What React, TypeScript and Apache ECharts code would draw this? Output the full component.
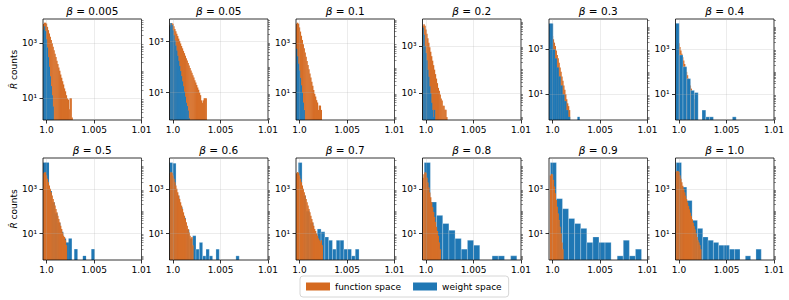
import React, { useEffect, useRef } from 'react';
import * as echarts from 'echarts';

// ---------- data ----------
const betas = ['0.005', '0.05', '0.1', '0.2', '0.3', '0.4', '0.5', '0.6', '0.7', '0.8', '0.9', '1.0'];
const seriesNames = ['function space', 'weight space'];

const xTickValues = [1.0, 1.005, 1.01];
const xTickLabels = ['1.0', '1.005', '1.01'];
const yTickValues = [10, 1000];
const yTickLabels = ['10¹', '10³'];
const yMinorTickValues = [0.7, 0.8, 0.9, 1, 2, 3, 4, 5, 6, 7, 8, 9, 20, 30, 40, 50, 60, 70, 80, 90, 100, 200, 300, 400, 500, 600, 700, 800, 900, 2000, 3000, 4000, 5000, 6000, 7000, 8000, 9000, 10000, 20000];

// axis ranges (log10 of count) per panel
const yLogMin = [0.212, -0.072, -0.108, -0.127, -0.14, -0.14, -0.185, -0.185, -0.185, -0.185, -0.185, -0.185];
const yLogMax = [3.885, 3.889, 3.99, 4.14, 4.35, 4.35, 4.38, 4.38, 4.38, 4.38, 4.38, 4.38];
const X_MIN = 0.99963;
const X_MAX = 1.01;

// function space histograms: first bin edge, bin width, counts
const fnStart = [0.99962, 0.99962, 0.99962, 0.99962, 0.99962, 0.99962, 0.99962, 0.99962, 0.99962, 0.99962, 0.99972, 0.99962];
const fnWidth = [0.0001, 0.0001, 0.0001, 0.0001, 0.0001, 0.0001, 0.0001, 0.0001, 0.0001, 0.0001, 0.0001, 0.0001];
const fn0005 = [5012, 5623, 5623, 5248, 3981, 3020, 2291, 1738, 1318, 1000, 759, 562, 417, 316, 234, 178, 132, 100, 74, 56, 42, 32, 23, 18, 13, 10, 9, 4, 10, 10, 2];
const fn005 = [4467, 5248, 5248, 5012, 3981, 3162, 2570, 2042, 1660, 1318, 1072, 851, 676, 550, 437, 355, 282, 224, 182, 145, 117, 93, 74, 60, 48, 39, 31, 25, 20, 16, 13, 10, 8, 5, 4, 5, 6, 6, 6];
const fn01 = [6310, 6918, 6310, 4467, 3020, 2042, 1380, 933, 631, 427, 288, 195, 132, 89, 60, 41, 28, 19, 13, 9, 7, 5, 4, 2, 3, 3, 2];
const fn02 = [7079, 8318, 7079, 5012, 3311, 2138, 1380, 891, 575, 372, 240, 155, 100, 65, 42, 27, 17, 13, 9, 6, 5, 3, 3, 2, 2, 1];
const fn03 = [3162, 3981, 4365, 3981, 2818, 1995, 1413, 891, 562, 398, 251, 158, 100, 63, 40, 25, 16, 10, 6, 4, 3, 2];
const fn04 = [1585, 1995, 1995, 1862, 1259, 891, 631, 447, 316, 224, 158, 100, 71, 50, 35, 25, 18, 13, 9, 6, 4, 3, 2];
const fn05 = [5012, 5495, 5495, 3981, 2818, 1995, 1413, 1000, 708, 501, 355, 251, 178, 126, 89, 63, 45, 32, 22, 16, 11, 8, 7, 5, 3];
const fn06 = [5012, 5623, 5248, 3981, 2818, 1995, 1413, 1000, 708, 501, 355, 251, 178, 126, 89, 63, 45, 32, 22, 16, 11, 8, 6, 7, 3];
const fn07 = [5012, 5623, 5248, 3981, 2818, 1995, 1413, 1000, 708, 501, 355, 251, 178, 126, 89, 63, 45, 32, 22, 16, 13, 10, 8, 6, 5, 4, 5, 3];
const fn08 = [3162, 4467, 5495, 5248, 3162, 1905, 1148, 692, 417, 251, 151, 91, 55, 33, 20, 13, 8, 4, 2];
const fn09 = [3981, 4677, 4467, 2512, 1259, 631, 316, 158, 79, 40, 20, 10, 4, 2];
const fn10 = [5623, 6310, 6310, 5623, 3981, 2818, 1995, 1380, 977, 692, 490, 347, 245, 170, 120, 85, 60, 43, 30, 21, 15, 10, 7, 5, 4, 3, 2];
const fnCounts = [fn0005, fn005, fn01, fn02, fn03, fn04, fn05, fn06, fn07, fn08, fn09, fn10];

// weight space histograms
const wsStart = [0.99962, 0.99962, 0.99962, 0.99962, 0.99962, 0.99962, 0.99962, 0.99962, 0.99987, 0.99981, 0.99977, 0.9997];
const wsWidth = [0.0001, 0.0001, 0.0001, 0.0001, 0.0002, 0.0004, 0.0003, 0.00035, 0.0004, 0.00065, 0.00064, 0.00056];
const ws0005 = [3162, 4169, 2818, 1413, 708, 316, 141, 63, 28, 13, 5];
const ws005 = [3981, 5370, 4467, 2818, 1778, 1122, 708, 447, 282, 178, 112, 71, 45, 28, 18, 11, 7, 4, 3, 2, 1];
const ws01 = [600, 300, 150, 80, 40, 20, 10, 4, 2];
const ws02 = [6000, 3000, 1000, 500, 250, 100, 50, 20, 10, 4, 2, 1, 2];
const ws03 = [14125, 14125, 1000, 398, 158, 63, 25, 10, 5, 2, 1, 0, 0, 0, 0, 1];
const ws04 = [14454, 562, 170, 50, 15, 12, 0, 2, 1, 1, 0, 0, 0, 0, 0, 1];
const ws05 = [15000, 15000, 800, 250, 80, 30, 12, 6, 4, 6, 0, 2, 0, 0, 1, 0, 0, 2];
const ws06 = [15000, 14000, 500, 150, 50, 15, 6, 8, 2, 4, 1, 2, 1, 0, 2, 0, 0, 0, 0, 0, 1];
const ws07 = [15000, 500, 100, 30, 10, 16, 12, 7, 5, 2, 5, 5, 2, 2, 1, 2];
const ws08 = [15000, 257, 65, 28, 14, 6, 2, 5, 3, 0, 0, 1, 1, 0, 1];
const ws09 = [15000, 363, 129, 47, 28, 17, 4, 7, 4, 4, 0, 1, 5, 1, 2];
const ws10 = [15000, 1200, 300, 39, 17, 7, 5, 4, 3, 3, 2, 2, 0, 1, 0, 2];
const wsCounts = [ws0005, ws005, ws01, ws02, ws03, ws04, ws05, ws06, ws07, ws08, ws09, ws10];

// which histogram is drawn on top in each panel
const weightOnTop = [true, true, true, true, true, true, false, false, false, false, false, false];

// ---------- style / layout ----------
const ORANGE = '#d5691f';
const BLUE = '#1f77b4';
const FONT = 'DejaVu Sans';
const GRID_LEFT0 = 43;
const GRID_STEP = 126.5;
const GRID_W = 98.5;
const ROW_TOP = [19, 158];
const ROW_H = [101, 102];

function toBins(start: number, width: number, counts: number[]) {
  const out: number[][] = [];
  counts.forEach((c, i) => {
    if (c > 0) out.push([start + i * width, start + (i + 1) * width, c]);
  });
  return out;
}

const makeRender = (color: string) => (params: any, api: any) => {
  const x0 = api.value(0);
  const x1 = api.value(1);
  const c = api.value(2);
  const cs = params.coordSys;
  const p0 = api.coord([x0, c]);
  const p1 = api.coord([x1, c]);
  const bottom = cs.y + cs.height;
  const w = p1[0] - p0[0];
  const narrow = w < 3;
  // narrow bins are widened slightly so that neighbours overlap (no anti-aliasing seams)
  const rect = echarts.graphic.clipRectByRect(
    { x: p0[0], y: p0[1], width: narrow ? w + 0.45 : w, height: bottom - p0[1] },
    { x: cs.x, y: cs.y, width: cs.width, height: cs.height }
  );
  if (!rect) return null;
  return {
    type: 'rect',
    shape: rect,
    style: narrow
      ? { fill: color, stroke: 'rgba(255,255,255,0.15)', lineWidth: 0.3 }
      : { fill: color, stroke: 'rgba(255,255,255,0.4)', lineWidth: 0.6 },
  };
};

function buildOption() {
  const grid: any[] = [];
  const xAxis: any[] = [];
  const yAxis: any[] = [];
  const series: any[] = [];
  const title: any[] = [];

  for (let i = 0; i < 12; i++) {
    const r = Math.floor(i / 6);
    const c = i % 6;
    const left = GRID_LEFT0 + c * GRID_STEP;
    const top = ROW_TOP[r];
    const h = ROW_H[r];
    grid.push({
      left, top, width: GRID_W, height: h,
      show: true, borderColor: '#000', borderWidth: 0.8, backgroundColor: 'transparent',
      z: 5, containLabel: false, outerBoundsMode: 'none',
    });
    xAxis.push({
      type: 'value', gridIndex: i, min: X_MIN, max: X_MAX, z: 6,
      axisLine: { show: false },
      axisTick: { show: true, customValues: xTickValues, length: 3.5, lineStyle: { color: '#000', width: 0.8 } },
      axisLabel: {
        show: true, customValues: xTickValues, margin: 5, fontSize: 9, color: '#000', fontFamily: FONT,
        formatter: (v: number) => {
          let best = 0;
          xTickValues.forEach((t, k) => { if (Math.abs(t - v) < Math.abs(xTickValues[best] - v)) best = k; });
          return xTickLabels[best];
        },
      },
      splitLine: { show: true, lineStyle: { color: 'rgba(176,176,176,0.3)', width: 0.8 } },
    });
    yAxis.push({
      type: 'log', logBase: 10, gridIndex: i, z: 6,
      min: Math.pow(10, yLogMin[i]), max: Math.pow(10, yLogMax[i]),
      axisLine: { show: false },
      axisTick: { show: true, customValues: yTickValues, length: 3.5, lineStyle: { color: '#000', width: 0.8 } },
      axisLabel: {
        show: true, customValues: yTickValues, margin: 6, fontSize: 9, color: '#000', fontFamily: FONT,
        formatter: (v: number) => (Math.abs(v - 10) < 1 ? yTickLabels[0] : yTickLabels[1]),
      },
      splitLine: { show: true, lineStyle: { color: 'rgba(176,176,176,0.3)', width: 0.8 } },
      name: c === 0 ? '{i|R\u0302} counts' : '',
      nameLocation: 'middle', nameRotate: 90, nameGap: 25,
      nameTextStyle: { fontSize: 9, color: '#000', fontFamily: FONT, rich: { i: { fontSize: 9, fontStyle: 'italic', fontFamily: FONT, color: '#000' } } },
    });
    yAxis.push({
      type: 'log', logBase: 10, gridIndex: i, z: 6,
      min: Math.pow(10, yLogMin[i]), max: Math.pow(10, yLogMax[i]),
      axisLine: { show: false },
      axisTick: { show: true, customValues: yMinorTickValues, length: 2, lineStyle: { color: '#222', width: 0.5 } },
      axisLabel: { show: false },
      splitLine: { show: false },
    });

    const fnSeries = {
      type: 'custom', name: seriesNames[0], xAxisIndex: i, yAxisIndex: 2 * i,
      itemStyle: { color: ORANGE }, encode: { x: [0, 1], y: 2 },
      renderItem: makeRender(ORANGE), clip: true,
      data: toBins(fnStart[i], fnWidth[i], fnCounts[i]),
    };
    const wsSeries = {
      type: 'custom', name: seriesNames[1], xAxisIndex: i, yAxisIndex: 2 * i,
      itemStyle: { color: BLUE }, encode: { x: [0, 1], y: 2 },
      renderItem: makeRender(BLUE), clip: true,
      data: toBins(wsStart[i], wsWidth[i], wsCounts[i]),
    };
    if (weightOnTop[i]) series.push(fnSeries, wsSeries);
    else series.push(wsSeries, fnSeries);

    title.push({
      text: `{i|β} = ${betas[i]}`,
      left: left + GRID_W / 2,
      top: r === 0 ? 4 : 143,
      textAlign: 'center',
      padding: 0,
      textStyle: {
        fontSize: 10.5, fontWeight: 'normal', color: '#000', fontFamily: FONT, lineHeight: 13,
        rich: { i: { fontSize: 10.5, fontStyle: 'italic', fontFamily: FONT, color: '#000', lineHeight: 13 } },
      },
    });
  }

  return {
    animation: false,
    backgroundColor: '#ffffff',
    title,
    grid,
    xAxis,
    yAxis,
    series,
    legend: {
      data: [
        { name: seriesNames[0], itemStyle: { color: ORANGE } },
        { name: seriesNames[1], itemStyle: { color: BLUE } },
      ],
      left: 300, top: 276,
      icon: 'rect', itemWidth: 24, itemHeight: 8, itemGap: 12,
      padding: [6, 7, 6, 6],
      borderColor: '#cccccc', borderWidth: 0.8, borderRadius: 3,
      backgroundColor: '#ffffff',
      textStyle: { fontSize: 9, color: '#000', fontFamily: FONT },
      selectedMode: false,
    },
  };
}

export default function App() {
  const ref = useRef<HTMLDivElement>(null);
  useEffect(() => {
    const chart = echarts.init(ref.current!, null, { renderer: 'svg' });
    chart.setOption(buildOption() as any);
    return () => chart.dispose();
  }, []);
  return (
    <div
      ref={ref}
      style={{ position: 'fixed', left: 0, top: 0, width: 789, height: 300, background: '#fff' }}
    />
  );
}
